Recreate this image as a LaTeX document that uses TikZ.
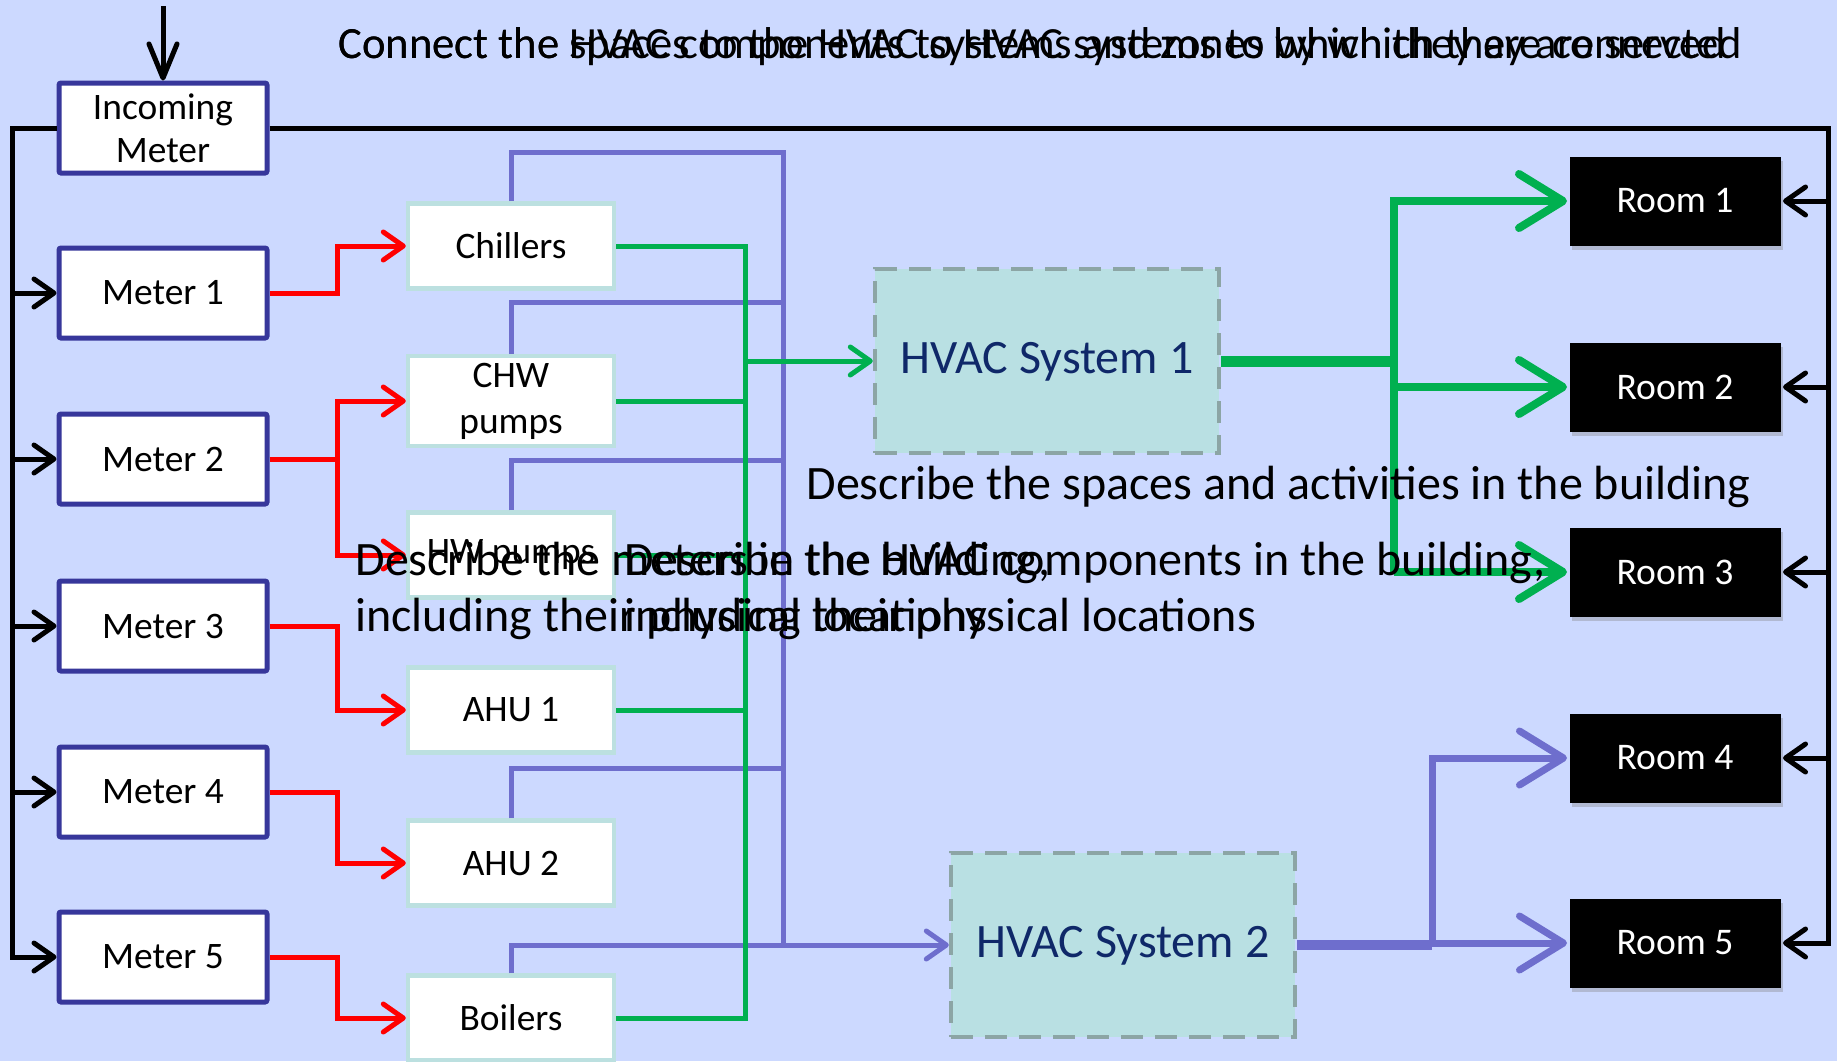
\documentclass[tikz,border=0pt]{standalone}
\usepackage{fontspec}
\setmainfont{Carlito}
\usetikzlibrary{arrows.meta,shadows}

\definecolor{bgblue}{RGB}{204,217,255}
\definecolor{meterblue}{RGB}{55,55,155}
\definecolor{compedge}{RGB}{188,224,224}
\definecolor{hvacfill}{RGB}{185,224,227}
\definecolor{hvacedge}{RGB}{140,165,165}
\definecolor{hvactext}{RGB}{15,40,105}
\definecolor{pipegreen}{RGB}{0,176,80}
\definecolor{ductpurple}{RGB}{110,110,205}

\tikzset{every picture/.style={line width=2.5pt}}
\tikzset{
  meterbox/.style={draw=meterblue, fill=white, line width=2.5pt, rounded corners=1pt, minimum width=104pt, minimum height=45pt, align=center, font=\fontsize{18.7}{21.5}\selectfont},
  compbox/.style={draw=compedge, fill=white, line width=2.2pt, minimum width=103pt, minimum height=42.5pt, align=center, font=\fontsize{18.7}{23}\selectfont},
  hvacbox/.style={draw=hvacedge, fill=hvacfill, line width=2.2pt, dash pattern=on 11pt off 6pt, minimum width=172pt, minimum height=92pt, text=hvactext, font=\fontsize{24}{28}\selectfont},
  roombox/.style={fill=black, text=white, minimum width=105.5pt, minimum height=44.5pt, font=\fontsize{18.8}{22}\selectfont, drop shadow={shadow xshift=1pt, shadow yshift=-2pt, opacity=0.35}},
  stepnote/.style={anchor=west, align=left, inner sep=0pt, font=\fontsize{24}{28}\selectfont},
  thinarr/.style={-{Straight Barb[round,length=10pt,width=14pt]}},
  fatarr/.style={-{Straight Barb[round,length=22pt,width=27pt]}},
  feed/.style={black, line width=2.5pt},
  elec/.style={red, line width=2.5pt},
  water/.style={pipegreen, line width=2.5pt},
  duct/.style={ductpurple, line width=2.5pt},
  watermain/.style={pipegreen, line width=5.5pt},
  ductmain/.style={ductpurple, line width=5pt},
}

\begin{document}
\begin{tikzpicture}[x=0.5pt,y=0.5pt,yscale=-1,xscale=1]
\useasboundingbox (0,0) rectangle (1837,1061);
%Background
\fill[bgblue] (0,0) rectangle (1837,1061);

%Shape: Rectangle (meters)
\node[meterbox] (inc) at (163,128) {Incoming\\Meter};
\node[meterbox] (m1) at (163,293) {Meter 1};
\node[meterbox] (m2) at (163,459) {Meter 2};
\node[meterbox] (m3) at (163,626) {Meter 3};
\node[meterbox] (m4) at (163,792) {Meter 4};
\node[meterbox] (m5) at (163,957) {Meter 5};

%Shape: Rectangle (components)
\node[compbox] (chill) at (511,246) {Chillers};
\node[compbox] (chwp) at (511,401) {CHW\\pumps};
\node[compbox] (hwp) at (511,555) {HW pumps};
\node[compbox] (ahu1) at (511,710) {AHU 1};
\node[compbox] (ahu2) at (511,863) {AHU 2};
\node[compbox] (boil) at (511,1018) {Boilers};

%Shape: Rectangle (systems)
\node[hvacbox, text depth=3pt] (hvac1) at (1047,361) {HVAC System 1};
\node[hvacbox, text depth=3pt] (hvac2) at (1123,945) {HVAC System 2};

%Shape: Rectangle (rooms)
\node[roombox] (r1) at (1675,201) {Room 1};
\node[roombox] (r2) at (1675,387) {Room 2};
\node[roombox] (r3) at (1675,572) {Room 3};
\node[roombox] (r4) at (1675,758) {Room 4};
\node[roombox] (r5) at (1675,943) {Room 5};

\coordinate (feedin) at (163,6);
\coordinate (busL) at (12,128);
\coordinate (busR) at (1828,128);
\coordinate (gx) at (745,1018);
\coordinate (px) at (783,152);
\coordinate (gj) at (1394,361);
\coordinate (pj) at (1432,945);

%Straight Lines (power feed)
\draw[feed, -{Straight Barb[round,length=17pt,width=14pt]}] (feedin) -- (inc.north);
\draw[feed, thinarr] (inc.west) -- (busL) |- (m5.west);
\draw[feed, thinarr] (busL |- m1.west) -- (m1.west);
\draw[feed, thinarr] (busL |- m2.west) -- (m2.west);
\draw[feed, thinarr] (busL |- m3.west) -- (m3.west);
\draw[feed, thinarr] (busL |- m4.west) -- (m4.west);
\draw[feed, thinarr] (inc.east) -- (busR) |- (r5.east);
\draw[feed, thinarr] (busR |- r1.east) -- (r1.east);
\draw[feed, thinarr] (busR |- r2.east) -- (r2.east);
\draw[feed, thinarr] (busR |- r3.east) -- (r3.east);
\draw[feed, thinarr] (busR |- r4.east) -- (r4.east);

%Straight Lines (meters to components)
\draw[elec, thinarr] (m1.east) -- ++(68,0) |- (chill.west);
\draw[elec, thinarr] (m2.east) -- ++(68,0) |- (chwp.west);
\draw[elec, thinarr] (m2.east) -- ++(68,0) |- (hwp.west);
\draw[elec, thinarr] (m3.east) -- ++(68,0) |- (ahu1.west);
\draw[elec, thinarr] (m4.east) -- ++(68,0) |- (ahu2.west);
\draw[elec, thinarr] (m5.east) -- ++(68,0) |- (boil.west);

%Straight Lines (ducts)
\draw[duct] (chill.north) |- (px) -- (px |- hvac2.west);
\draw[duct] (chwp.north) -- ++(0,-51) coordinate (p2) -- (p2 -| px);
\draw[duct] (hwp.north) -- ++(0,-50) coordinate (p3) -- (p3 -| px);
\draw[duct] (ahu2.north) -- ++(0,-50) coordinate (p5) -- (p5 -| px);
\draw[duct, thinarr] (boil.north) |- (hvac2.west);

%Straight Lines (water)
\draw[water] (chill.east) -| (gx) -- (boil.east);
\draw[water] (chwp.east) -- (chwp.east -| gx);
\draw[water] (hwp.east) -- (hwp.east -| gx);
\draw[water] (ahu1.east) -- (ahu1.east -| gx);
\draw[water, thinarr] (gx |- hvac1.west) -- (hvac1.west);

%Straight Lines (systems to rooms)
\draw[watermain] (hvac1.east) -- (gj);
\draw[water, line width=4pt, fatarr] (gj |- r3.west) |- (r1.west);
\draw[water, line width=4pt, fatarr] (gj |- r2.west) -- (r2.west);
\draw[water, line width=4pt, fatarr] (gj |- r3.west) -- (r3.west);
\draw[ductmain] (hvac2.east) -- (pj);
\draw[duct, line width=3.5pt, fatarr] (pj) |- (r4.west);
\draw[duct, line width=3.5pt, fatarr] (pj |- r5.west) -- (r5.west);

% Text Node
\node[stepnote, font=\fontsize{22.3}{26}\selectfont] (topnote1) at (336,47) {Connect the HVAC components to HVAC systems to which they are connected};
% Text Node
\node[stepnote, font=\fontsize{22.3}{26}\selectfont] (topnote2) at (336,47) {Connect the spaces to the HVAC systems and zones by which they are served};
% Text Node
\node[stepnote] (spacenote) at (804,487) {Describe the spaces and activities in the building};
% Text Node
\node[stepnote] (meternote) at (353,591) {Describe the meters in the building,\\including their physical locations};
% Text Node
\node[stepnote] (compnote) at (622,591) {Describe the HVAC components in the building,\\including their physical locations};

\end{tikzpicture}
\end{document}
